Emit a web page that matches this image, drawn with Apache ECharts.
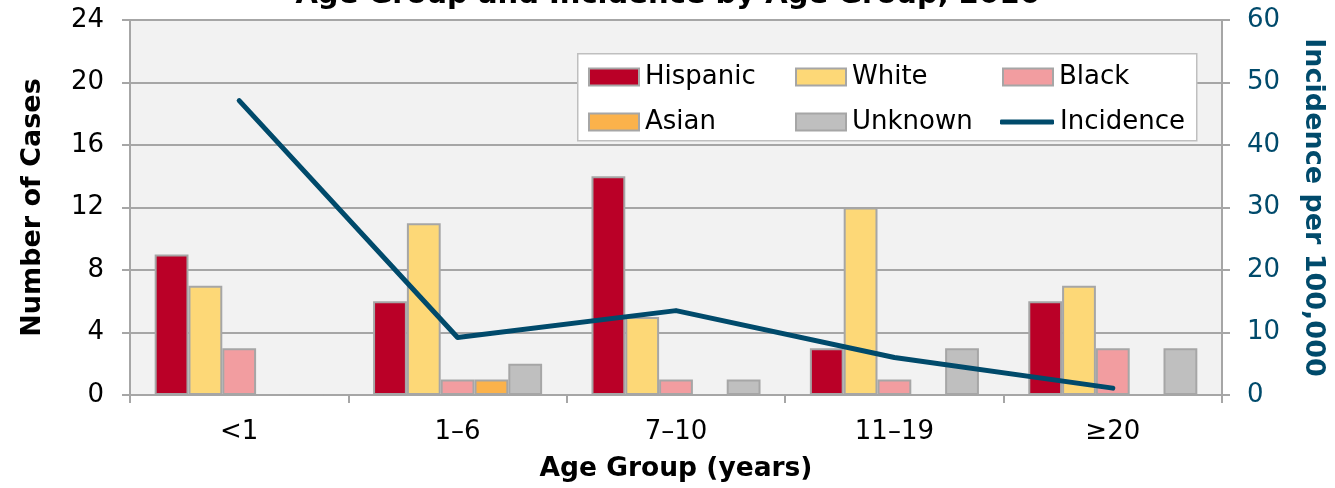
<!DOCTYPE html>
<html><head><meta charset="utf-8">
<script src="https://cdn.jsdelivr.net/npm/echarts@6/dist/echarts.min.js"></script>
<style>html,body{margin:0;padding:0;background:#fff}#c{width:1335px;height:488px}</style>
</head><body><div id="c"></div>
<script>
const categories = ['<1', '1–6', '7–10', '11–19', '≥20'];
const hispanic = [9, 6, 14, 3, 6];
const white = [7, 11, 5, 12, 7];
const black = [3, 1, 1, 1, 3];
const asian = [0, 1, 0, 0, 0];
const unknown = [0, 2, 1, 3, 3];
const incidence = [47.1, 9.2, 13.5, 6.0, 1.1];
const leftTicks = [0, 4, 8, 12, 16, 20, 24];
const rightTicks = [0, 10, 20, 30, 40, 50, 60];

const FONT = 'DejaVu Sans';
const GRID = '#a6a6a6';
const TEAL = '#004a6b';
const chart = echarts.init(document.getElementById('c'));
function bar(name, data, color) {
  return { name, type: 'bar', data, barGap: 0, barCategoryGap: '22.6%',
    itemStyle: { color, borderColor: GRID, borderWidth: 2 } };
}
const legendCommon = { orient: 'vertical', icon: 'rect', itemWidth: 50, itemHeight: 17, itemGap: 19, z: 10,
  textStyle: { fontFamily: FONT, fontSize: 26, color: '#000', padding: [0, 0, 0, 1] } };
chart.setOption({
  animation: false,
  textStyle: { fontFamily: FONT },
  title: { text: 'Age Group and Incidence by Age Group, 2016', left: 'center', top: -24,
    textStyle: { fontFamily: FONT, fontWeight: 'bold', fontSize: 29, color: '#000' } },
  grid: { left: 130, right: 107, top: 20, bottom: 92, show: true, backgroundColor: '#f2f2f2', borderWidth: 0 },
  graphic: [{ type: 'rect', left: 577, top: 53, shape: { width: 619, height: 87 }, z: 5,
    style: { fill: '#fff', stroke: '#bfbfbf', lineWidth: 1.5 } }],
  legend: [
    Object.assign({ left: 583, top: 59, data: ['Hispanic', 'Asian'] }, legendCommon),
    Object.assign({ left: 790, top: 59, data: ['White', 'Unknown'] }, legendCommon),
    Object.assign({ left: 997, top: 59, data: ['Black'] }, legendCommon),
    Object.assign({}, legendCommon, { left: 995, top: 104, data: ['Incidence'], icon: 'roundRect', itemHeight: 5, itemWidth: 54 })
  ],
  xAxis: { type: 'category', data: categories, boundaryGap: true,
    name: 'Age Group (years)', nameLocation: 'middle', nameGap: 61,
    nameTextStyle: { fontFamily: FONT, fontWeight: 'bold', fontSize: 26.5, color: '#000' },
    axisLine: { lineStyle: { color: GRID, width: 2 } },
    axisTick: { show: true, length: 8, lineStyle: { color: GRID, width: 2 } },
    axisLabel: { fontFamily: FONT, fontSize: 26, color: '#000', margin: 24 } },
  yAxis: [
    { type: 'value', min: 0, max: 24, interval: 4,
      name: 'Number of Cases', nameLocation: 'middle', nameGap: 84, nameRotate: 90,
      nameTextStyle: { fontFamily: FONT, fontWeight: 'bold', fontSize: 27, color: '#000' },
      axisLine: { show: true, lineStyle: { color: GRID, width: 2 } },
      axisTick: { show: true, length: 8, lineStyle: { color: GRID, width: 2 } },
      splitLine: { lineStyle: { color: GRID, width: 2 } },
      axisLabel: { fontFamily: FONT, fontSize: 26, color: '#000', margin: 26,
        formatter: v => leftTicks.includes(v) ? String(v) : '' } },
    { type: 'value', min: 0, max: 60, interval: 10, position: 'right',
      name: 'Incidence per 100,000', nameLocation: 'middle', nameGap: 78, nameRotate: -90,
      nameTextStyle: { fontFamily: FONT, fontWeight: 'bold', fontSize: 27, color: TEAL },
      axisLine: { show: true, lineStyle: { color: GRID, width: 2 } },
      axisTick: { show: true, length: 8, lineStyle: { color: GRID, width: 2 } },
      splitLine: { show: false },
      axisLabel: { fontFamily: FONT, fontSize: 26, color: TEAL, margin: 25,
        formatter: v => rightTicks.includes(v) ? String(v) : '' } }
  ],
  series: [
    bar('Hispanic', hispanic, '#ba0027'),
    bar('White', white, '#fdd877'),
    bar('Black', black, '#f29da0'),
    bar('Asian', asian, '#fbb24b'),
    bar('Unknown', unknown, '#bfbfbf'),
    { name: 'Incidence', type: 'line', yAxisIndex: 1, data: incidence, symbol: 'none',
      lineStyle: { color: TEAL, width: 5, cap: 'round', join: 'round' }, itemStyle: { color: TEAL }, z: 3 }
  ]
});
</script></body></html>
